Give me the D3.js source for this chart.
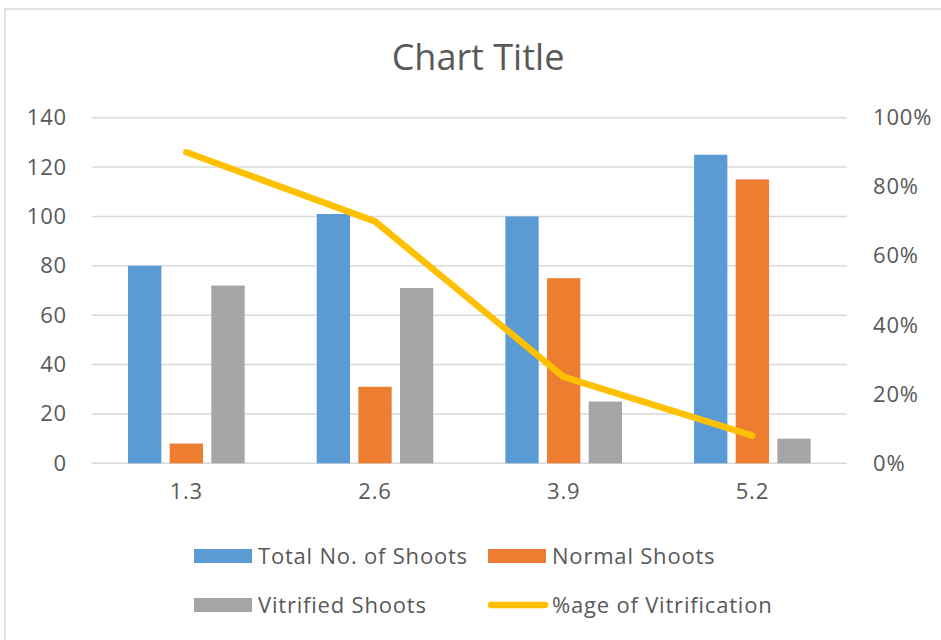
<!DOCTYPE html>
<html>
<head>
<meta charset="utf-8">
<script src="https://cdn.jsdelivr.net/npm/d3@7"></script>
<style>
  html, body { margin: 0; padding: 0; background: #ffffff; }
  svg { display: block; font-family: "Open Sans", sans-serif; }
</style>
</head>
<body>
<svg id="chart" width="941" height="640"></svg>
<script>
// Shoot counts per concentration, with the vitrification share on a second axis
const categories = ["1.3", "2.6", "3.9", "5.2"];
const seriesNames = ["Total No. of Shoots", "Normal Shoots", "Vitrified Shoots"];
const totalShoots = [80, 101, 100, 125];
const normalShoots = [8, 31, 75, 115];
const vitrifiedShoots = [72, 71, 25, 10];
const vitrificationPct = [0.90, 0.70, 0.25, 0.08];
const leftTicks = [0, 20, 40, 60, 80, 100, 120, 140];
const rightTicks = [0, 0.2, 0.4, 0.6, 0.8, 1.0];
const lineName = "%age of Vitrification";

const colors = ["#5B9BD5", "#ED7D31", "#A5A5A5"];
const lineColor = "#FFC000";
const textColor = "#595959";
const gridColor = "#D9D9D9";
const labelSize = 22;
const labelSpacing = 0.8;

const svg = d3.select("#chart");

// Chart frame
svg.append("rect")
  .attr("x", 5).attr("y", 9)
  .attr("width", 960).attr("height", 660)
  .attr("fill", "#ffffff")
  .attr("stroke", gridColor).attr("stroke-width", 1.5);

const plot = { left: 92, right: 846.7, top: 117.7, bottom: 463.3 };

const x0 = d3.scaleBand().domain(categories).range([plot.left, plot.right]).padding(0);
const groupWidth = 116.6;
const x1 = d3.scaleBand().domain(seriesNames)
  .range([(x0.bandwidth() - groupWidth) / 2, (x0.bandwidth() + groupWidth) / 2])
  .paddingInner(0.2).paddingOuter(0);
const yLeft = d3.scaleLinear().domain([0, 140]).range([plot.bottom, plot.top]);
const yRight = d3.scaleLinear().domain([0, 1]).range([plot.bottom, plot.top]);

// Title
svg.append("text")
  .attr("x", 478).attr("y", 69.5)
  .attr("text-anchor", "middle")
  .attr("fill", textColor)
  .attr("font-size", 36)
  .text("Chart Title");

// Gridlines
svg.append("g").selectAll("line").data(leftTicks).join("line")
  .attr("x1", plot.left).attr("x2", plot.right)
  .attr("y1", d => yLeft(d)).attr("y2", d => yLeft(d))
  .attr("stroke", gridColor).attr("stroke-width", 1.5);

function styleLabels(g) {
  g.select(".domain").remove();
  g.selectAll("text").attr("fill", textColor).attr("font-size", labelSize)
    .attr("letter-spacing", labelSpacing)
    .attr("font-family", "Open Sans, sans-serif");
}

// Left axis
const leftAxis = d3.axisLeft(yLeft).tickValues(leftTicks).tickSize(0).tickPadding(0);
svg.append("g").attr("transform", "translate(67,0)").call(leftAxis).call(styleLabels);

// Right axis
const rightAxis = d3.axisRight(yRight).tickValues(rightTicks).tickSize(0).tickPadding(0)
  .tickFormat(d3.format(".0%"));
svg.append("g").attr("transform", "translate(873,0)").call(rightAxis).call(styleLabels);

// Bottom axis labels
const bottomAxis = d3.axisBottom(x0).tickSize(0).tickPadding(0);
svg.append("g").attr("transform", `translate(0,${plot.bottom + 20})`).call(bottomAxis).call(styleLabels);

// Bars
const seriesValues = [totalShoots, normalShoots, vitrifiedShoots];
const rows = categories.map((c, i) => ({
  cat: c,
  values: seriesNames.map((s, j) => ({ series: s, value: seriesValues[j][i], color: colors[j] }))
}));

svg.append("g").selectAll("g").data(rows).join("g")
  .attr("transform", d => `translate(${x0(d.cat)},0)`)
  .selectAll("rect").data(d => d.values).join("rect")
  .attr("x", d => x1(d.series))
  .attr("width", x1.bandwidth())
  .attr("y", d => yLeft(d.value))
  .attr("height", d => yLeft(0) - yLeft(d.value))
  .attr("fill", d => d.color);

// Vitrification line
const line = d3.line()
  .x((d, i) => x0(categories[i]) + x0.bandwidth() / 2)
  .y(d => yRight(d));
svg.append("path")
  .datum(vitrificationPct)
  .attr("d", line)
  .attr("fill", "none")
  .attr("stroke", lineColor)
  .attr("stroke-width", 6.5)
  .attr("stroke-linejoin", "round")
  .attr("stroke-linecap", "round");

// Legend
const legendItems = [
  { name: seriesNames[0], type: "bar", color: colors[0], x: 194, y: 556 },
  { name: seriesNames[1], type: "bar", color: colors[1], x: 488, y: 556 },
  { name: seriesNames[2], type: "bar", color: colors[2], x: 194, y: 605 },
  { name: lineName, type: "line", color: lineColor, x: 488, y: 605 }
];
const lg = svg.append("g").selectAll("g").data(legendItems).join("g")
  .attr("transform", d => `translate(${d.x},${d.y})`);
lg.filter(d => d.type === "bar").append("rect")
  .attr("x", 0).attr("y", -7).attr("width", 58).attr("height", 14)
  .attr("fill", d => d.color);
lg.filter(d => d.type === "line").append("line")
  .attr("x1", 3).attr("x2", 57).attr("y1", 0).attr("y2", 0)
  .attr("stroke", d => d.color).attr("stroke-width", 6.5)
  .attr("stroke-linecap", "round");
lg.append("text")
  .attr("x", 64).attr("y", 0).attr("dy", "0.36em")
  .attr("fill", textColor).attr("font-size", labelSize)
  .attr("letter-spacing", labelSpacing)
  .text(d => d.name);
</script>
</body>
</html>
